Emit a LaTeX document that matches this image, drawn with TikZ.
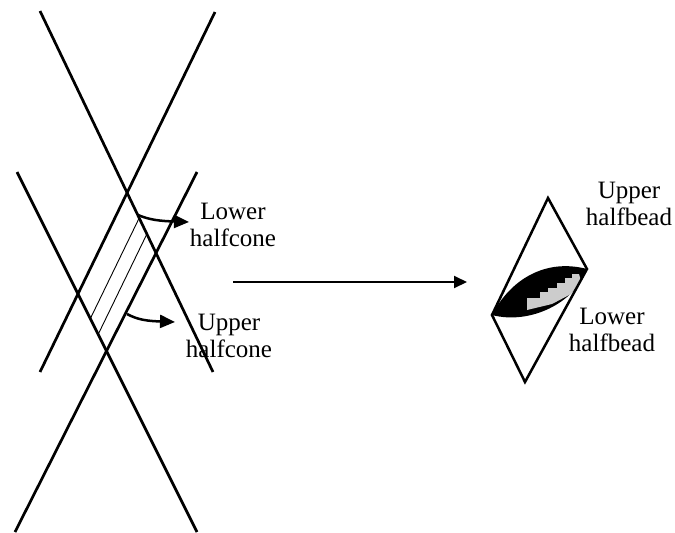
\documentclass[tikz,border=0pt]{standalone}
\usepackage{fontspec}
\setmainfont{Liberation Serif}
\usetikzlibrary{arrows.meta}
\begin{document}
\begin{tikzpicture}[x=1pt,y=-1pt,
  coneline/.style={line width=2.7pt},
  hatchline/.style={line width=0.9pt},
  beadline/.style={line width=2.5pt, line join=miter},
  pointer/.style={line width=2.5pt, -{Triangle[length=15pt,width=13pt]}},
  mainarrow/.style={line width=2pt, -{Triangle[length=13pt,width=12pt]}},
  lbl/.style={font=\fontsize{25}{27}\selectfont, align=center, inner sep=0pt}]
\useasboundingbox (0,0) rectangle (675,533);
% upper X
\coordinate (uA1) at (40,11);  \coordinate (uA2) at (213,372);
\coordinate (uB1) at (215,12); \coordinate (uB2) at (40,372);
% lower X
\coordinate (lA1) at (17,172);  \coordinate (lA2) at (197,532);
\coordinate (lB1) at (197,172); \coordinate (lB2) at (15,532);
\draw[coneline] (uA1) -- (uA2);
\draw[coneline] (uB1) -- (uB2);
\draw[coneline] (lA1) -- (lA2);
\draw[coneline] (lB1) -- (lB2);
% hatch lines
\coordinate (h1a) at (139.2,218); \coordinate (h1b) at (90.3,318.7);
\coordinate (h2a) at (146.9,234); \coordinate (h2b) at (98.2,334.3);
\draw[hatchline] (h1a) -- (h1b);
\draw[hatchline] (h2a) -- (h2b);
% labels left (anchor = baseline of last line)
\node[lbl, anchor=base] (lhc) at (233,246) {Lower\\halfcone};
\node[lbl, anchor=base] (uhc) at (229,357) {Upper\\halfcone};
% pointers
\coordinate (p1s) at (138,215); \coordinate (p1e) at (189,222);
\coordinate (p2s) at (127,314); \coordinate (p2e) at (175,322);
\draw[pointer] (p1s) .. controls (150,220) and (160,221) .. (p1e);
\draw[pointer] (p2s) .. controls (138,320) and (148,321) .. (p2e);
% main arrow
\coordinate (ma1) at (233,282); \coordinate (ma2) at (467,282);
\draw[mainarrow] (ma1) -- (ma2);
% bead
\coordinate (dT) at (548,198); \coordinate (dR) at (587,269);
\coordinate (dB) at (525,382); \coordinate (dL) at (492,315);
\fill[black] (dL) .. controls (510,280) and (545,258) .. (dR)
  .. controls (575,303) and (530,325) .. (dL) -- cycle;
\fill[gray!40] (527,310) -- (527,298) -- (540,298) -- (540,292) -- (548,292)
  -- (548,288) -- (557,288) -- (557,283) -- (565,283) -- (565,278)
  -- (572,278) -- (572,274) -- (579,274) -- (581,281) -- (571,294)
  -- (552,304) -- cycle;
\draw[beadline] (dT) -- (dR) -- (dB) -- (dL) -- cycle;
% labels right
\node[lbl, anchor=base] (uhb) at (629,225) {Upper\\halfbead};
\node[lbl, anchor=base] (lhb) at (612,351) {Lower\\halfbead};
\end{tikzpicture}
\end{document}
